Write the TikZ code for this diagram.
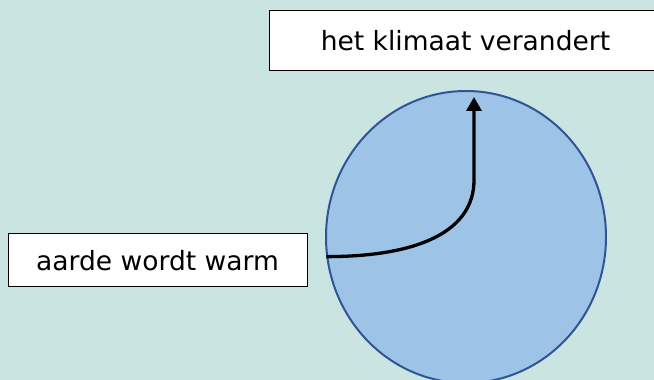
\documentclass[tikz,border=0pt]{standalone}
\usepackage{fontspec}
\setmainfont{DejaVu Sans}
\usepackage{tikz}
\usepackage{xcolor}
\usetikzlibrary{positioning, calc, shapes.geometric, arrows.meta}

\definecolor{bgteal}{HTML}{C9E4E1}
\definecolor{earthfill}{HTML}{9DC3E6}
\definecolor{earthline}{HTML}{2F5597}

\begin{document}
\begin{tikzpicture}[x=1pt,y=1pt,
    label box/.style={rectangle,draw,fill=white,line width=1pt,font=\fontsize{26.5}{30}\selectfont}]
    \fill[bgteal] (0,0) rectangle (654,380);
    \useasboundingbox (0,0) rectangle (654,380);
    \node[ellipse,draw=earthline,fill=earthfill,line width=2pt,minimum width=280,minimum height=292] (earth) at (466,143) {};
    \node[label box,minimum width=393,minimum height=60] (klimaat) at (465.5,339) {het klimaat verandert};
    \node[label box,minimum width=299,minimum height=53] (aarde) at (157.5,119.5) {aarde wordt warm};
    \coordinate (bend) at (474,200);
    \coordinate (tip) at (474,283);
    \draw[line width=3.3pt,-{Triangle[length=14pt,width=15pt]}]
        (earth.188) .. controls +(95,0) and +(0,-50) .. (bend) -- (tip);
\end{tikzpicture}
\end{document}
